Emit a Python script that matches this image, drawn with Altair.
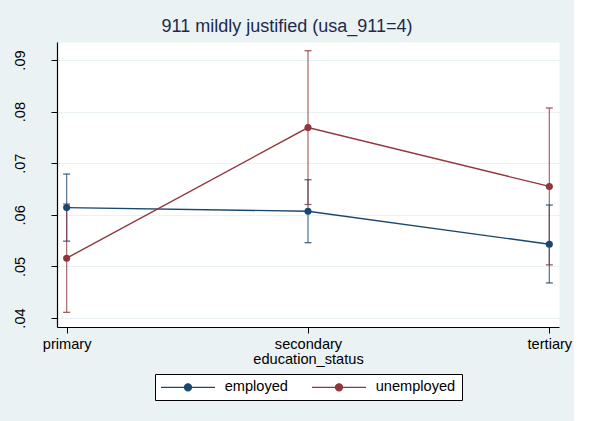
import altair as alt
import pandas as pd

# Predicted share, with 95% confidence bounds, by education and employment
education = ["primary", "secondary", "tertiary"]
groups = ["employed", "unemployed"]

employed_mean = [0.0614, 0.0607, 0.0543]
employed_lo = [0.0549, 0.0546, 0.0468]
employed_hi = [0.0679, 0.0668, 0.0619]

unemployed_mean = [0.0516, 0.0769, 0.0655]
unemployed_lo = [0.0411, 0.0620, 0.0503]
unemployed_hi = [0.0621, 0.0918, 0.0807]

y_ticks = [0.04, 0.05, 0.06, 0.07, 0.08, 0.09]
colors = ["#1a476f", "#90353b"]

rows = []
for g, m, lo, hi in [
    ("employed", employed_mean, employed_lo, employed_hi),
    ("unemployed", unemployed_mean, unemployed_lo, unemployed_hi),
]:
    for e, mv, lv, hv in zip(education, m, lo, hi):
        rows.append({"education_status": e, "group": g, "mean": mv, "lo": lv, "hi": hv})
df = pd.DataFrame(rows)

FONT = "Liberation Sans"
FS = 14.6

# line-with-dot legend glyph
glyph = "M-13.5,0H13.5M-1.75,0A1.75,1.75,0,1,1,1.75,0A1.75,1.75,0,1,1,-1.75,0Z"

legend = alt.Legend(
    title=None,
    orient="none",
    legendX=98,
    legendY=332,
    direction="horizontal",
    columns=2,
    symbolType=glyph,
    symbolSize=16,
    symbolStrokeWidth=1.4,
    symbolOffset=19.7,
    labelOffset=29.4,
    labelFont=FONT,
    labelFontSize=FS,
    labelColor="black",
    columnPadding=21,
    padding=6,
    fillColor="white",
    strokeColor="black",
    symbolOpacity=1,
)

color = alt.Color(
    "group:N",
    scale=alt.Scale(domain=groups, range=colors),
    legend=legend,
)

x = alt.X(
    "education_status:N",
    sort=education,
    scale=alt.Scale(type="point", padding=0.04),
    axis=alt.Axis(
        title="education_status",
        labelAngle=0,
        labelFont=FONT,
        labelFontSize=FS,
        labelColor="black",
        labelPadding=3,
        titleFont=FONT,
        titleFontSize=FS,
        titleFontWeight="normal",
        titleColor="black",
        titlePadding=1,
        tickSize=6,
        tickColor="black",
        domainColor="black",
        domainWidth=1.2,
        grid=False,
    ),
)

y_scale = alt.Scale(domain=[0.03826, 0.09349], nice=False, zero=False)
y_axis = alt.Axis(
    title=None,
    values=y_ticks,
    labelExpr="substring(format(datum.value, '.2f'), 1)",
    labelAngle=270,
    labelAlign="center",
    labelBaseline="alphabetic",
    labelPadding=27,
    labelFont=FONT,
    labelFontSize=FS,
    labelColor="black",
    tickSize=6,
    tickColor="black",
    domainColor="black",
    domainWidth=1.2,
    grid=True,
    gridColor="#eaf2f3",
    gridWidth=1.2,
)

base = alt.Chart(df)

ci = base.mark_rule(strokeWidth=1.3, opacity=0.7).encode(
    x=x, y=alt.Y("lo:Q", scale=y_scale, axis=y_axis), y2="hi:Q", color=color
)
cap_lo = base.mark_tick(orient="horizontal", size=7, thickness=1.3, opacity=0.8).encode(
    x=x, y=alt.Y("lo:Q", scale=y_scale), color=color
)
cap_hi = base.mark_tick(orient="horizontal", size=7, thickness=1.3, opacity=0.8).encode(
    x=x, y=alt.Y("hi:Q", scale=y_scale), color=color
)
line = base.mark_line(strokeWidth=1.4).encode(
    x=x, y=alt.Y("mean:Q", scale=y_scale), color=color
)
pts = base.mark_circle(size=50, opacity=1).encode(
    x=x, y=alt.Y("mean:Q", scale=y_scale), color=color
)

chart = (
    alt.layer(ci, cap_lo, cap_hi, line, pts)
    .properties(
        width=502,
        height=285,
        padding={"left": 57, "top": 42, "right": 15, "bottom": 94},
        autosize=alt.AutoSizeParams(type="none"),
        title=alt.Title(
            "911 mildly justified (usa_911=4)",
            font=FONT,
            fontSize=18,
            fontWeight="normal",
            color="#1c2b4a",
            anchor="middle",
            dx=-21,
            dy=17,
            baseline="alphabetic",
            offset=9,
        ),
    )
    .configure(background="#eaf2f3")
    .configure_view(fill="white", stroke="transparent")
)

chart.save("out.html", embed_options={"renderer": "svg", "actions": False})
